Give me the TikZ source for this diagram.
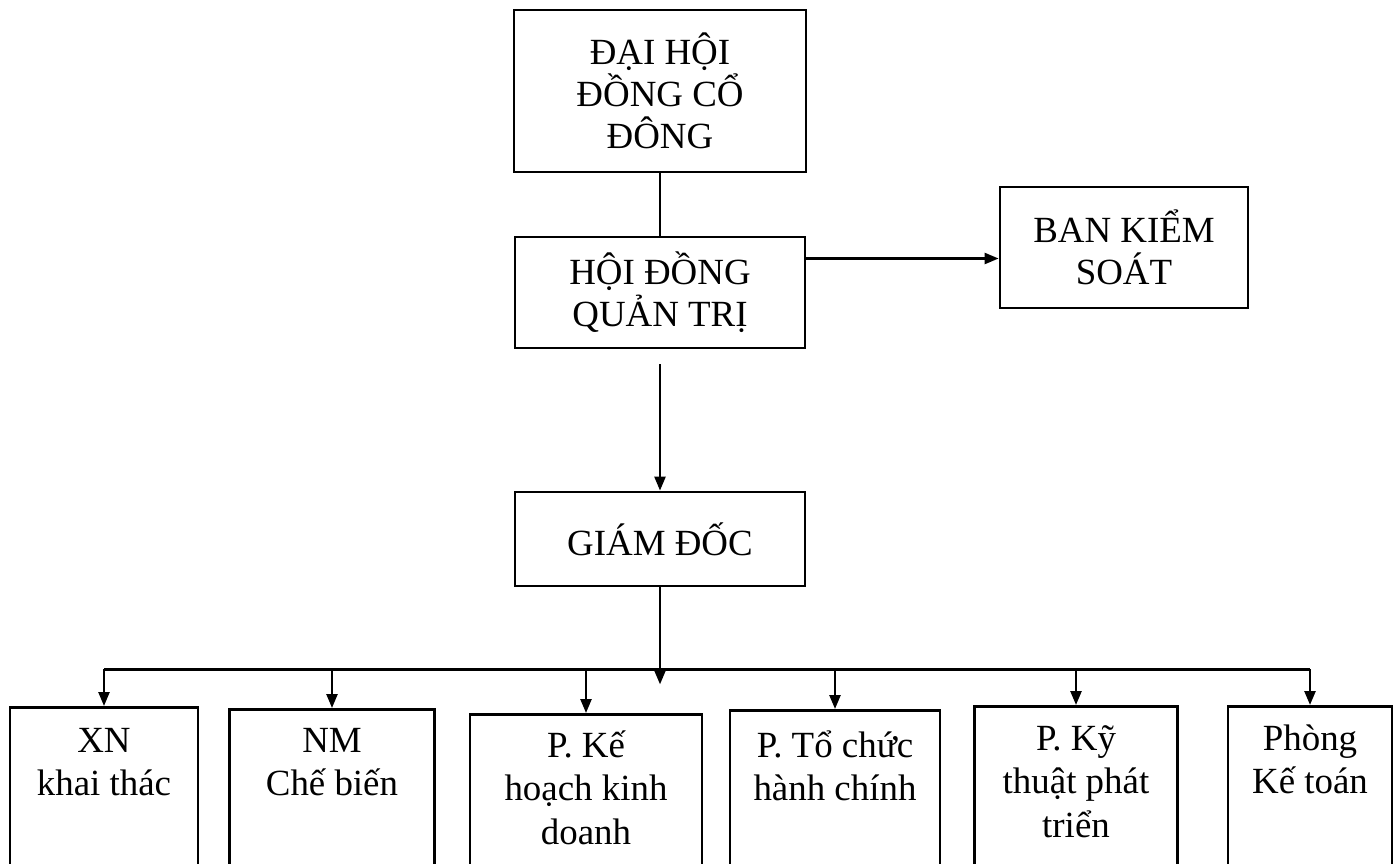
\documentclass[tikz,border=0pt]{standalone}
\usepackage{fontspec}
\setmainfont{Liberation Serif}
\usetikzlibrary{arrows.meta,positioning}

\begin{document}
\begin{tikzpicture}[auto,line width=1.4pt,>={Triangle[length=0.28cm,width=0.22cm]},font=\fontsize{21}{24}\selectfont]

	\useasboundingbox (0,0) rectangle (27.94,-17.26);
	\clip (0,0) rectangle (27.94,-17.26);

	\begin{scope}[every node/.style={draw,rectangle,align=center,line width=1.6pt}]
		\node (dhcd) at (13.2,-1.82) [minimum width=5.84cm,minimum height=3.24cm] {ĐẠI HỘI\\ĐỒNG CỔ\\ĐÔNG};
		\node (hdqt) at (13.2,-5.85) [minimum width=5.8cm,minimum height=2.22cm] {HỘI ĐỒNG\\QUẢN TRỊ};
		\node (bks) at (22.48,-4.95) [minimum width=4.96cm,minimum height=2.42cm] {BAN KIỂM\\SOÁT};
		\node (gd) at (13.2,-10.78) [minimum width=5.8cm,minimum height=1.88cm] {GIÁM ĐỐC};
	\end{scope}
	\coordinate (bus) at ([yshift=-1.64cm]gd.south);

	% units below the director
	\begin{scope}[every node/.style={draw,rectangle,anchor=north,minimum height=3.6cm,line width=1.6pt}]
		\node (xn) at (2.08,-14.12) [minimum width=3.76cm] {};
		\node (nm) at (6.64,-14.16) [minimum width=4.1cm] {};
		\node (kh) at (11.72,-14.26) [minimum width=4.64cm] {};
		\node (tc) at (16.7,-14.18) [minimum width=4.2cm] {};
		\node (kt) at (21.52,-14.1) [minimum width=4.06cm] {};
		\node (ktoan) at (26.2,-14.1) [minimum width=3.28cm] {};
	\end{scope}
	\begin{scope}[every node/.style={anchor=base,align=flush center,text width=3.6cm,font=\fontsize{21}{25}\selectfont}]
		\node (xnt) at ([yshift=-0.92cm]xn.north) {XN\\khai thác};
		\node (nmt) at ([yshift=-0.88cm]nm.north) {NM\\Chế biến};
		\node (kht) at ([yshift=-0.88cm]kh.north) {P. Kế\\hoạch kinh\\doanh};
		\node (tct) at ([yshift=-0.96cm]tc.north) {P. Tổ chức\\hành chính};
		\node (ktt) at ([yshift=-0.9cm]kt.north) {P. Kỹ\\thuật phát\\triển};
		\node (ktoant) at ([yshift=-0.9cm]ktoan.north) {Phòng\\Kế toán};
	\end{scope}

	\draw (dhcd.south) -- (hdqt.north);
	\draw[->] ([yshift=0.68cm]hdqt.east) -- ([yshift=0.68cm]hdqt.east -| bks.west);
	\draw[->,shorten <=0.3cm] (hdqt.south) -- (gd.north);
	\draw[->] (gd.south) -- ([yshift=-0.3cm]bus);

	\draw (xn.north |- bus) -- (ktoan.north |- bus);
	\draw[->] (xn.north |- bus) -- (xn.north);
	\draw[->] (nm.north |- bus) -- (nm.north);
	\draw[->] (kh.north |- bus) -- (kh.north);
	\draw[->] (tc.north |- bus) -- (tc.north);
	\draw[->] (kt.north |- bus) -- (kt.north);
	\draw[->] (ktoan.north |- bus) -- (ktoan.north);

\end{tikzpicture}
\end{document}
